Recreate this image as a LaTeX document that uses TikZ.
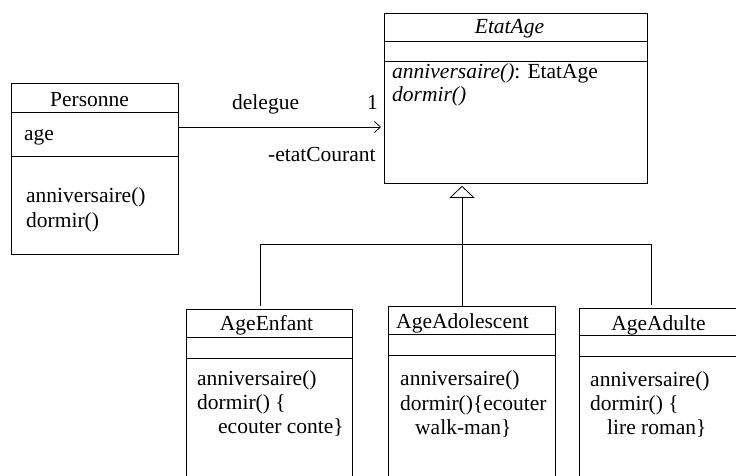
\documentclass[tikz,border=0pt]{standalone}
\usepackage{fontspec}
\setmainfont{Liberation Serif}
\usetikzlibrary{arrows.meta}

\tikzset{
  classbox/.style={draw, line width=0.8pt, anchor=north west, inner sep=0pt},
  rule/.style={line width=0.8pt},
  title/.style={anchor=base, inner sep=0pt},
  member/.style={anchor=base west, inner sep=0pt},
  assoc/.style={line width=0.8pt, -{Straight Barb[length=6pt, width=11pt, line width=0.8pt]}, shorten >=3pt},
  inherit/.style={line width=0.8pt, -{Triangle[open, length=12pt, width=25pt, line width=0.8pt]}, shorten >=2pt},
  link/.style={line width=0.8pt},
}

\begin{document}
\begin{tikzpicture}[x=1pt, y=-1pt, font=\fontsize{21.5}{24}\selectfont]
\clip (0,0) rectangle (736,475);
\fill[white] (0,0) rectangle (736,475);

% Personne
\node[classbox, minimum width=167pt, minimum height=171pt] (personne) at (11,83) {};
\draw[rule] (personne.west |- 0,112) -- (personne.east |- 0,112);
\draw[rule] (personne.west |- 0,156) -- (personne.east |- 0,156);
\node[title] (personneT) at (89.5,106) {Personne};
\node[member] (personneA) at (24,140) {age};
\node[member] (personneM1) at (26,202) {anniversaire()};
\node[member] (personneM2) at (26,227) {dormir()};

% EtatAge (abstract)
\node[classbox, minimum width=263pt, minimum height=170pt] (etat) at (384,13) {};
\draw[rule] (etat.west |- 0,41) -- (etat.east |- 0,41);
\draw[rule] (etat.west |- 0,61) -- (etat.east |- 0,61);
\node[title] (etatT) at (509.5,33) {\itshape EtatAge};
\node[member] (etatM1) at (392,78) {\textit{anniversaire()}: EtatAge};
\node[member] (etatM2) at (392,101) {\textit{dormir()}};

% AgeEnfant
\node[classbox, minimum width=166pt, minimum height=200pt] (enfant) at (186,309) {};
\draw[rule] (enfant.west |- 0,337) -- (enfant.east |- 0,337);
\draw[rule] (enfant.west |- 0,358) -- (enfant.east |- 0,358);
\node[title] (enfantT) at (266.5,330) {AgeEnfant};
\node[member] (enfantM1) at (197,385) {anniversaire()};
\node[member] (enfantM2) at (197,409) {dormir() \{};
\node[member] (enfantM3) at (218,433) {ecouter conte\}};

% AgeAdolescent
\node[classbox, minimum width=167pt, minimum height=200pt] (adol) at (388,306) {};
\draw[rule] (adol.west |- 0,334) -- (adol.east |- 0,334);
\draw[rule] (adol.west |- 0,355) -- (adol.east |- 0,355);
\node[title] (adolT) at (462.5,328) {AgeAdolescent};
\node[member] (adolM1) at (400,385) {anniversaire()};
\node[member] (adolM2) at (400,410) {dormir()\{ecouter};
\node[member] (adolM3) at (415,434) {walk-man\}};

% AgeAdulte
\node[classbox, minimum width=170pt, minimum height=200pt] (adulte) at (579,308) {};
\draw[rule] (adulte.west |- 0,335) -- (adulte.east |- 0,335);
\draw[rule] (adulte.west |- 0,356) -- (adulte.east |- 0,356);
\node[title] (adulteT) at (658.5,330) {AgeAdulte};
\node[member] (adulteM1) at (590,386) {anniversaire()};
\node[member] (adulteM2) at (590,410) {dormir() \{};
\node[member] (adulteM3) at (607,434) {lire roman\}};

% delegation association
\coordinate (assocY) at (0,127);
\draw[assoc] (personne.east |- assocY) -- (etat.west |- assocY);
\node[member] (delegue) at (232,109) {delegue};
\node[member] (mult) at (367,109) {1};
\node[member] (role) at (268,161) {-etatCourant};

% generalisation tree
\coordinate (hub) at (462,244);
\coordinate (jL) at (260,244);
\coordinate (jR) at (651,244);
\draw[inherit] (hub |- adol.north) -- (hub |- etat.south);
\draw[link, shorten <=3pt, shorten >=3pt] (jL |- enfant.north) -- (jL) -- (jR) -- (jR |- adulte.north);
\end{tikzpicture}
\end{document}
